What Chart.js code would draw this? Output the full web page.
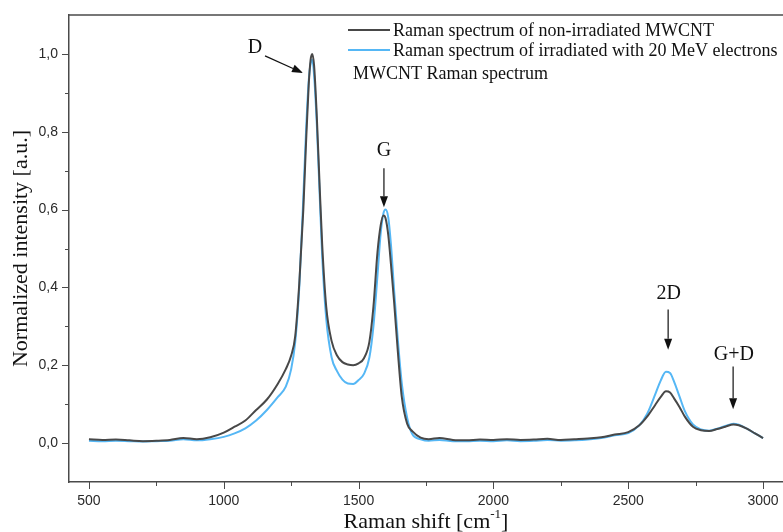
<!DOCTYPE html>
<html>
<head>
<meta charset="utf-8">
<script src="https://cdn.jsdelivr.net/npm/chart.js@4.4.1/dist/chart.umd.min.js"></script>
<style>
  html, body { margin: 0; padding: 0; background: #fff; }
  #wrap { width: 783px; height: 532px; }
</style>
</head>
<body>
<div id="wrap"><canvas id="chart" width="783" height="532"></canvas></div>
<script>
// Raman shift [cm-1], shared by both spectra
const ramanShift = [
  500, 550, 600, 650, 700, 750, 800, 850, 900, 950,
  1000, 1040, 1080, 1120, 1160, 1200, 1230, 1250, 1265, 1280,
  1295, 1305, 1315, 1322, 1328, 1335, 1345, 1355, 1365, 1380,
  1400, 1420, 1440, 1460, 1480, 1500, 1520, 1540, 1555, 1570,
  1582, 1592, 1600, 1610, 1620, 1632, 1645, 1660, 1680, 1700,
  1730, 1760, 1800, 1850, 1900, 1950, 2000, 2050, 2100, 2150,
  2200, 2250, 2300, 2350, 2400, 2450, 2500, 2540, 2570, 2600,
  2620, 2640, 2655, 2670, 2690, 2710, 2740, 2770, 2800, 2830,
  2860, 2890, 2910, 2940, 2970, 3000
];

// normalized intensity, non-irradiated MWCNT
const nonIrradiated = [
  0.010, 0.008, 0.009, 0.007, 0.005, 0.006, 0.008, 0.013, 0.010, 0.015,
  0.027, 0.042, 0.058, 0.085, 0.112, 0.152, 0.190, 0.225, 0.275, 0.410,
  0.600, 0.770, 0.920, 0.985, 1.000, 0.970, 0.840, 0.670, 0.510, 0.350,
  0.262, 0.225, 0.208, 0.202, 0.200, 0.205, 0.218, 0.260, 0.350, 0.490,
  0.560, 0.585, 0.578, 0.535, 0.460, 0.360, 0.240, 0.120, 0.050, 0.030,
  0.014, 0.010, 0.013, 0.008, 0.007, 0.009, 0.008, 0.010, 0.008, 0.009,
  0.011, 0.008, 0.010, 0.012, 0.015, 0.022, 0.028, 0.045, 0.068, 0.098,
  0.118, 0.133, 0.130, 0.115, 0.093, 0.068, 0.042, 0.033, 0.031, 0.036,
  0.042, 0.048, 0.046, 0.037, 0.025, 0.013
];

// normalized intensity, irradiated with 20 MeV electrons
const irradiated = [
  0.006, 0.005, 0.006, 0.005, 0.004, 0.005, 0.006, 0.010, 0.007, 0.010,
  0.016, 0.025, 0.038, 0.058, 0.085, 0.118, 0.145, 0.190, 0.260, 0.400,
  0.630, 0.800, 0.930, 0.975, 0.985, 0.945, 0.820, 0.650, 0.480, 0.320,
  0.220, 0.185, 0.163, 0.153, 0.152, 0.162, 0.178, 0.220, 0.300, 0.430,
  0.540, 0.590, 0.600, 0.580, 0.510, 0.390, 0.270, 0.155, 0.065, 0.022,
  0.010, 0.006, 0.008, 0.005, 0.005, 0.006, 0.005, 0.007, 0.005, 0.006,
  0.008, 0.006, 0.007, 0.009, 0.013, 0.020, 0.026, 0.045, 0.075, 0.125,
  0.160, 0.183, 0.180, 0.158, 0.120, 0.082, 0.048, 0.035, 0.032, 0.037,
  0.044, 0.050, 0.047, 0.037, 0.025, 0.013
];

const seriesNames = [
  'Raman spectrum of non-irradiated MWCNT',
  'Raman spectrum of irradiated with 20 MeV electrons'
];
const legendTail = 'MWCNT Raman spectrum';

// peak labels: text position and arrow (start -> tip) in data units
const peakLabels = ['D', 'G', '2D', 'G+D'];
const peakTextX = [1116, 1594, 2650, 2892];
const peakTextY = [1.015, 0.752, 0.384, 0.228];
const arrowFromX = [1153, 1594, 2648, 2889];
const arrowFromY = [0.995, 0.706, 0.343, 0.197];
const arrowToX = [1294, 1594, 2648, 2889];
const arrowToY = [0.951, 0.606, 0.240, 0.087];

const xMajorTicks = [500, 1000, 1500, 2000, 2500, 3000];
const yMajorTicks = [0, 0.2, 0.4, 0.6, 0.8, 1.0];

const darkColor = '#484848';
const blueColor = '#55b7f5';
const axisColor = '#4a4a4a';
const serif = '"Liberation Serif", "Times New Roman", serif';

const toPoints = (xs, ys) => xs.map((x, i) => ({ x: x, y: ys[i] }));

const decor = {
  id: 'decor',
  afterDraw(chart) {
    const ctx = chart.ctx;
    const a = chart.chartArea;
    const xs = chart.scales.x, ys = chart.scales.y;
    ctx.save();

    // top frame line
    ctx.strokeStyle = axisColor;
    ctx.lineWidth = 1.5;
    ctx.beginPath();
    ctx.moveTo(a.left, a.top);
    ctx.lineTo(a.right, a.top);
    ctx.stroke();

    // tick marks, long on labelled values, short in between
    ctx.lineWidth = 1;
    ctx.beginPath();
    for (let v = 500; v <= 3000; v += 250) {
      const px = Math.round(xs.getPixelForValue(v)) + 0.5;
      const len = xMajorTicks.includes(v) ? 7 : 4;
      ctx.moveTo(px, a.bottom);
      ctx.lineTo(px, a.bottom + len);
    }
    for (let i = 0; i <= 10; i++) {
      const py = Math.round(ys.getPixelForValue(i / 10)) + 0.5;
      const len = i % 2 === 0 ? 7 : 4;
      ctx.moveTo(a.left, py);
      ctx.lineTo(a.left - len, py);
    }
    ctx.stroke();

    // x axis title with superscript
    ctx.fillStyle = '#111';
    ctx.textBaseline = 'alphabetic';
    const mainFont = '22px ' + serif;
    const supFont = '13px ' + serif;
    const p1 = 'Raman shift [cm', p2 = '-1', p3 = ']';
    ctx.font = mainFont;
    const w1 = ctx.measureText(p1).width, w3 = ctx.measureText(p3).width;
    ctx.font = supFont;
    const w2 = ctx.measureText(p2).width;
    const tx = (a.left + a.right) / 2 - (w1 + w2 + w3) / 2;
    const base = 528;
    ctx.font = mainFont;
    ctx.fillText(p1, tx, base);
    ctx.font = supFont;
    ctx.fillText(p2, tx + w1, base - 10);
    ctx.font = mainFont;
    ctx.fillText(p3, tx + w1 + w2, base);

    // legend
    const legX = 348, lineLen = 42;
    const rows = [30, 50];
    const cols = [darkColor, blueColor];
    ctx.font = '18px ' + serif;
    ctx.textBaseline = 'middle';
    rows.forEach((ry, i) => {
      ctx.strokeStyle = cols[i];
      ctx.lineWidth = 2;
      ctx.beginPath();
      ctx.moveTo(legX, ry);
      ctx.lineTo(legX + lineLen, ry);
      ctx.stroke();
      ctx.fillStyle = '#111';
      ctx.fillText(seriesNames[i], legX + lineLen + 3, ry + 1);
    });
    ctx.fillText(legendTail, legX + 5, 74);

    // peak labels and arrows
    ctx.font = '20px ' + serif;
    ctx.textAlign = 'center';
    ctx.fillStyle = '#111';
    ctx.strokeStyle = '#111';
    peakLabels.forEach((lab, i) => {
      const cx = xs.getPixelForValue(peakTextX[i]);
      const cy = ys.getPixelForValue(peakTextY[i]);
      ctx.fillText(lab, cx, cy);
      const x0 = xs.getPixelForValue(arrowFromX[i]), y0 = ys.getPixelForValue(arrowFromY[i]);
      const x1 = xs.getPixelForValue(arrowToX[i]), y1 = ys.getPixelForValue(arrowToY[i]);
      const ang = Math.atan2(y1 - y0, x1 - x0);
      const hl = 11, hw = 4;
      const bx = x1 - hl * Math.cos(ang), by = y1 - hl * Math.sin(ang);
      ctx.lineWidth = 1.2;
      ctx.beginPath();
      ctx.moveTo(x0, y0);
      ctx.lineTo(bx, by);
      ctx.stroke();
      ctx.beginPath();
      ctx.moveTo(x1, y1);
      ctx.lineTo(bx + hw * Math.sin(ang), by - hw * Math.cos(ang));
      ctx.lineTo(bx - hw * Math.sin(ang), by + hw * Math.cos(ang));
      ctx.closePath();
      ctx.fill();
    });
    ctx.restore();
  }
};

new Chart(document.getElementById('chart'), {
  type: 'line',
  data: {
    datasets: [
      {
        label: seriesNames[0],
        data: toPoints(ramanShift, nonIrradiated),
        borderColor: darkColor,
        borderWidth: 2,
        pointRadius: 0,
        cubicInterpolationMode: 'monotone',
        order: 0
      },
      {
        label: seriesNames[1],
        data: toPoints(ramanShift, irradiated),
        borderColor: blueColor,
        borderWidth: 2,
        pointRadius: 0,
        cubicInterpolationMode: 'monotone',
        order: 1
      }
    ]
  },
  options: {
    responsive: false,
    animation: false,
    layout: { padding: { top: 15, right: 0, left: 0, bottom: 0 } },
    plugins: {
      legend: { display: false },
      tooltip: { enabled: false }
    },
    scales: {
      x: {
        type: 'linear',
        min: 426,
        max: 3074,
        afterFit: s => { s.height = 50; s.paddingRight = 0; s.paddingLeft = 0; },
        afterBuildTicks: s => { s.ticks = xMajorTicks.map(v => ({ value: v })); },
        grid: { display: false, drawTicks: false },
        border: { display: true, color: axisColor, width: 1.5 },
        ticks: {
          padding: 11,
          color: '#2a2a2a',
          font: { family: '"Liberation Sans", Arial, sans-serif', size: 14 },
          callback: v => String(v)
        }
      },
      y: {
        min: -0.1,
        max: 1.1,
        afterFit: s => { s.width = 69; s.paddingTop = 0; s.paddingBottom = 0; },
        afterBuildTicks: s => { s.ticks = yMajorTicks.map(v => ({ value: v })); },
        grid: { display: false, drawTicks: false },
        border: { display: true, color: axisColor, width: 1.5 },
        title: {
          display: true,
          text: 'Normalized intensity [a.u.]',
          color: '#111',
          font: { family: serif, size: 22 },
          padding: { top: 8, bottom: 0 }
        },
        ticks: {
          padding: 11,
          color: '#2a2a2a',
          font: { family: '"Liberation Sans", Arial, sans-serif', size: 14 },
          callback: v => v.toFixed(1).replace('.', ',')
        }
      }
    }
  },
  plugins: [decor]
});
</script>
</body>
</html>
